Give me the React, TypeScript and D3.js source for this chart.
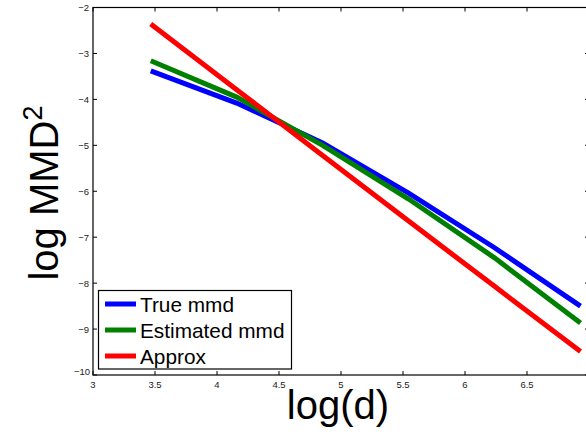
import React from "react";
import * as d3 from "d3";

const dims = [32, 64, 128, 256, 512, 1024];
const logD = dims.map((d) => Math.log(d));
const trueMmd = [-3.38, -4.08, -4.95, -6.04, -7.23, -8.5];
const estMmd = [-3.16, -3.95, -5.0, -6.17, -7.45, -8.87];
const approx = [-2.36, -3.79, -5.22, -6.65, -8.07, -9.49];
const xTicks = [3, 3.5, 4, 4.5, 5, 5.5, 6, 6.5];
const yTicks = [-10, -9, -8, -7, -6, -5, -4, -3, -2];

const series = [
  { name: "True mmd", values: trueMmd, color: "#0000ff" },
  { name: "Estimated mmd", values: estMmd, color: "#008000" },
  { name: "Approx", values: approx, color: "#ff0000" },
];

export default function App() {
  const W = 586, H = 436;
  const L = 93, R = 589, T = 7.5, B = 375;
  const x = d3.scaleLinear().domain([3, 7]).range([L, R]);
  const y = d3.scaleLinear().domain([-10, -2]).range([B, T]);
  const line = d3
    .line<number>()
    .x((_, i) => x(logD[i]))
    .y((v) => y(v));
  const font = "'Liberation Sans', Arial, Helvetica, sans-serif";
  const tl = 4;
  return (
    <svg
      width={W}
      height={H}
      style={{ position: "absolute", left: 0, top: 0, background: "#fff" }}
      fontFamily={font}
    >
      <rect x={0} y={0} width={W} height={H} fill="#fff" />
      {series.map((s) => (
        <path
          key={s.name}
          d={line(s.values) || ""}
          fill="none"
          stroke={s.color}
          strokeWidth={5}
          strokeLinejoin="miter"
        />
      ))}
      {/* axes box */}
      <rect x={L} y={T} width={R - L} height={B - T} fill="none" stroke="#000" strokeWidth={1.2} />
      {xTicks.map((t) => (
        <g key={"x" + t}>
          <line x1={x(t)} x2={x(t)} y1={B} y2={B - tl} stroke="#000" />
          <line x1={x(t)} x2={x(t)} y1={T} y2={T + tl} stroke="#000" />
          <text x={x(t)} y={387.5} fontSize={9.5} textAnchor="middle" fill="#222">
            {String(t)}
          </text>
        </g>
      ))}
      {yTicks.map((t) => (
        <g key={"y" + t}>
          <line x1={L} x2={L + tl} y1={y(t)} y2={y(t)} stroke="#000" />
          <line x1={R} x2={R - tl} y1={y(t)} y2={y(t)} stroke="#000" />
          <text
            x={t === -10 ? 90 : 89}
            y={y(t) + (t === -10 ? 0 : 3.5)}
            fontSize={9.5}
            textAnchor="end"
            fill="#222"
          >
            {"\u2212" + String(Math.abs(t))}
          </text>
        </g>
      ))}
      {/* legend */}
      <rect x={98.5} y={290.5} width={193} height={78.5} fill="#fff" stroke="#000" strokeWidth={1.2} />
      {series.map((s, i) => {
        const cy = 304 + i * 26;
        return (
          <g key={"lg" + s.name}>
            <line x1={105} x2={136} y1={cy} y2={cy} stroke={s.color} strokeWidth={5} />
            <text x={140} y={cy + 7.5} fontSize={20.8} fill="#000">
              {s.name}
            </text>
          </g>
        );
      })}
      {/* axis labels */}
      <text x={338} y={419} fontSize={40} textAnchor="middle" fill="#000">
        log(d)
      </text>
      <text
        transform="translate(58,193) rotate(-90)"
        fontSize={40}
        textAnchor="middle"
        fill="#000"
      >
        log MMD
        <tspan dy={-16} fontSize={27}>
          2
        </tspan>
      </text>
    </svg>
  );
}
